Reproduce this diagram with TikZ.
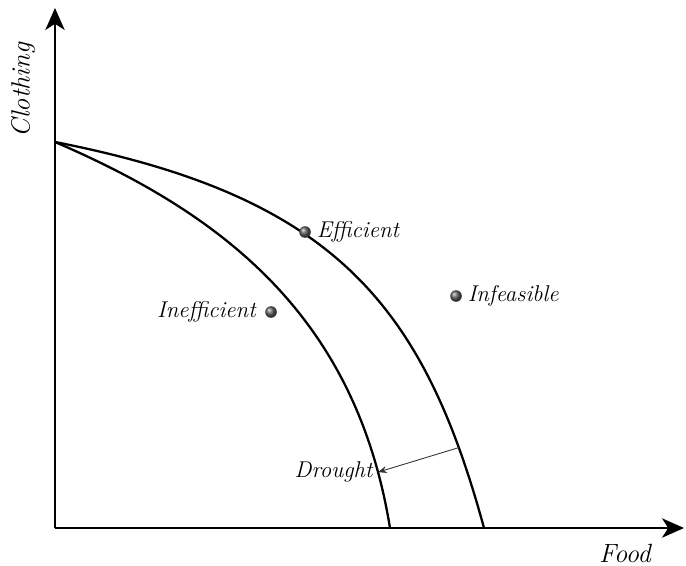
\documentclass[tikz,border=0pt]{standalone}
\usepackage{tikz}
\usetikzlibrary{arrows.meta, positioning}

\tikzset{
  axis/.style={line width=1.1pt, -{Stealth[length=12.5pt, width=11pt, inset=3.5pt]}},
  ppf/.style={line width=1.3pt},
  dot/.style={circle, inner sep=0pt, minimum size=6.6pt, shade, ball color=gray!75!black},
  lbl/.style={font=\fontsize{13}{15}\selectfont\itshape, inner sep=1pt},
  axlbl/.style={font=\fontsize{15}{17}\selectfont\itshape, inner sep=1pt}
}

\begin{document}
\begin{tikzpicture}[x=0.02cm, y=-0.02cm]

\useasboundingbox (0,0) rectangle (686,565);

%% Axes
\coordinate (origin) at (55,528);
\draw[axis] (origin) -- (684,528);
\draw[axis] (origin) -- (55,8);
\node[axlbl] (food) at (625,553) {Food};
\node[axlbl, rotate=90] (clothing) at (23,90) {Clothing};

%% Frontier before (outer) and after the drought (inner)
\draw[ppf] (55,142) .. controls (330,196) and (422,300) .. (484,528)
  coordinate[pos=0.874] (before);
\draw[ppf] (55,142) .. controls (225,215) and (356,318) .. (390,528)
  coordinate[pos=0.907] (after);

%% Shift of the frontier
\draw[-{Stealth[length=5pt, width=4pt]}, line width=0.5pt, black!80] (before) -- (after);
\node[lbl, left=2pt of after] (drought) {Drought};

%% Points
\node[dot] (eff) at (305,232) {};
\node[lbl, right=2pt of eff] (efflbl) {Efficient};
\node[dot] (ineff) at (271,312) {};
\node[lbl, left=4pt of ineff] (inefflbl) {Inefficient};
\node[dot] (infeas) at (456,296) {};
\node[lbl, right=2pt of infeas] (infeaslbl) {Infeasible};

\end{tikzpicture}
\end{document}
